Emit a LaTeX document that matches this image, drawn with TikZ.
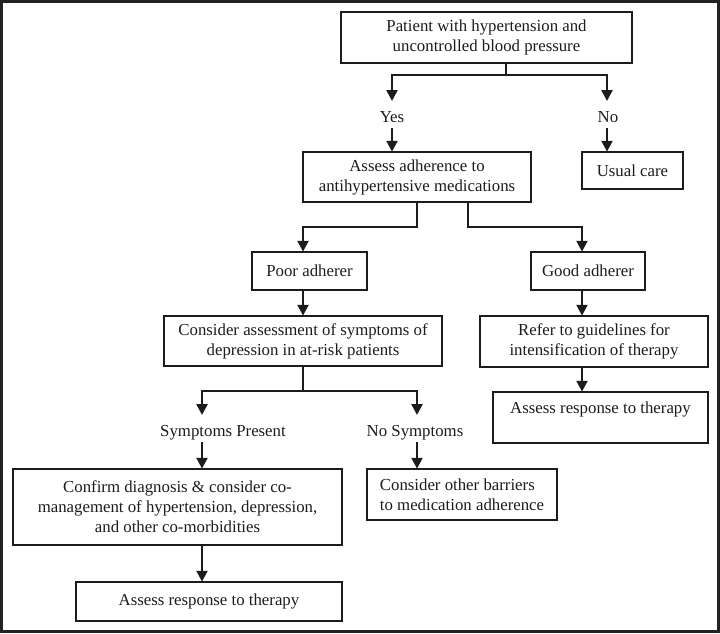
\documentclass[tikz,border=0pt]{standalone}
\usepackage{fontspec}
\setmainfont{Liberation Serif}
\usetikzlibrary{arrows.meta, positioning}
\definecolor{inkgray}{RGB}{28, 28, 28}
\definecolor{framegray}{RGB}{34, 34, 36}

\tikzset{
  box/.style={draw=inkgray, line width=0.8pt, align=center, inner sep=2pt,
    text=inkgray, font=\fontsize{12.6}{15}\selectfont},
  wh/.style 2 args={minimum width=#1*0.75pt, minimum height=#2*0.75pt},
  lbl/.style={inner sep=0pt, text height=8.2pt, text depth=0pt, anchor=base,
    text=inkgray, font=\fontsize{12.6}{15}\selectfont},
  link/.style={draw=inkgray, line width=0.8pt},
  flow/.style={link, -{Triangle[length=8pt, width=8.5pt]}},
  tolbl/.style={flow, shorten >=7.5pt},
  fromlbl/.style={flow, shorten <=4.5pt}
}

\begin{document}
\begin{tikzpicture}[x=0.75pt, y=-0.75pt]
  \useasboundingbox (0,0) rectangle (720,633);
  \draw[line width=2.25pt, framegray] (1.5,1.5) rectangle (718.5,631.5);

  % Top: entry and first split
  \node[box, wh={291}{51}] (patient) at (486.5,37.5)
    {Patient with hypertension and\\uncontrolled blood pressure};
  \node[lbl] (yes) at (392,122) {Yes};
  \node[lbl] (no) at (608,122) {No};
  \node[box, wh={228}{50}] (adher) at (417,177)
    {Assess adherence to\\antihypertensive medications};
  \node[box, wh={101}{37}] (usual) at (632.5,170.5) {Usual care};

  \coordinate (split1) at (506,75);
  \draw[tolbl] (patient.south -| split1) -- (split1) -| (yes.north);
  \draw[tolbl] (split1) -| (no.north -| 607,0);
  \draw[fromlbl] (yes.south) -- (yes.south |- adher.north);
  \draw[fromlbl] (no.south -| 607,0) -- (usual.north -| 607,0);

  % Middle: adherence split
  \node[box, wh={115}{38}] (poor) at (309.5,271) {Poor adherer};
  \node[box, wh={114}{38}] (good) at (588,271) {Good adherer};
  \coordinate (splitL) at (417,227);
  \coordinate (splitR) at (468,227);
  \draw[flow] (adher.south -| splitL) -- (splitL) -| (poor.north -| 303,0);
  \draw[flow] (adher.south -| splitR) -- (splitR) -| (good.north -| 582,0);

  \node[box, wh={278}{50}] (screen) at (303,341)
    {Consider assessment of symptoms of\\depression in at-risk patients};
  \node[box, wh={228}{51}] (refer) at (594,341.5)
    {Refer to guidelines for\\intensification of therapy};
  \node[box, wh={215}{51}] (respR) at (600.5,417.5)
    {Assess response to therapy\\ \mbox{}};
  \draw[flow] (poor.south -| screen) -- (screen.north);
  \draw[flow] (good.south -| 582,0) -- (refer.north -| 582,0);
  \draw[flow] (refer.south -| 582,0) -- (respR.north -| 582,0);

  % Bottom: symptoms split
  \node[lbl] (sympt) at (223,436) {Symptoms Present};
  \node[lbl] (nosym) at (415,436) {No Symptoms};
  \node[box, wh={329}{76}] (confirm) at (177.5,507)
    {Confirm diagnosis \& consider co-\\management of hypertension, depression,\\and other co-morbidities};
  \node[box, wh={190}{51}, align=left] (barrier) at (462,494.5)
    {Consider other barriers\\to medication adherence};
  \node[box, wh={266}{39}] (respL) at (209,601.5) {Assess response to therapy};

  \coordinate (split2) at (303,391);
  \draw[tolbl] (screen.south) -- (split2) -| (sympt.north -| 202,0);
  \draw[tolbl] (split2) -| (nosym.north -| 417,0);
  \draw[fromlbl] (sympt.south -| 202,0) -- (confirm.north -| 202,0);
  \draw[fromlbl] (nosym.south -| 417,0) -- (barrier.north -| 417,0);
  \draw[flow] (confirm.south -| 202,0) -- (respL.north -| 202,0);
\end{tikzpicture}
\end{document}
